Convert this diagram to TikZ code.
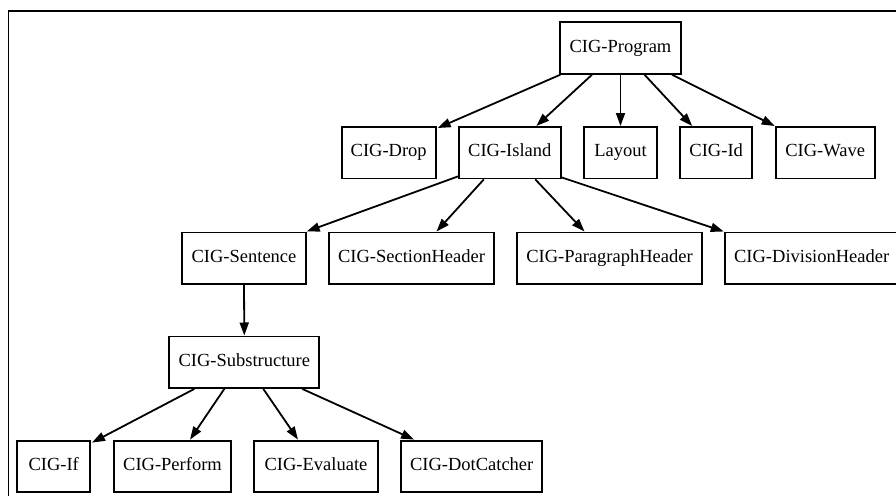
\documentclass[tikz,border=0pt]{standalone}
\usepackage{fontspec}
\setmainfont{Liberation Serif}
\usetikzlibrary{arrows.meta,calc}
\tikzset{
  box/.style={draw, line width=1.9pt, minimum height=51.5pt, inner sep=0pt, text height=12.5pt, text depth=4pt, font=\fontsize{18.5}{22}\selectfont},
  edge/.style={line width=1.8pt, -{Triangle[length=13pt,width=9pt]}, shorten >=0pt}
}
\begin{document}
\begin{tikzpicture}[x=1pt,y=-1pt]
\useasboundingbox (0,0) rectangle (896,495);
\draw[line width=1.3pt] (8.5,520) -- (8.5,11) -- (920,11);
\node[box, minimum width=120.4pt] (prog) at (620.5,48) {CIG-Program};
\node[box, minimum width=94pt] (drop) at (388.7,152.7) {CIG-Drop};
\node[box, minimum width=101.7pt] (isl) at (509.8,152.7) {CIG-Island};
\node[box, minimum width=73pt] (lay) at (620.5,152.7) {Layout};
\node[box, minimum width=72.3pt] (id) at (716.2,152.7) {CIG-Id};
\node[box, minimum width=99pt] (wave) at (825.2,152.7) {CIG-Wave};
\node[box, minimum width=123.4pt] (sent) at (244,258.2) {CIG-Sentence};
\node[box, minimum width=165pt] (sec) at (411.5,258.2) {CIG-SectionHeader};
\node[box, minimum width=184.4pt] (par) at (609.5,258.2) {CIG-ParagraphHeader};
\node[box, minimum width=174pt] (div) at (811.7,258.2) {CIG-DivisionHeader};
\node[box, minimum width=150pt] (sub) at (244.3,362.2) {CIG-Substructure};
\node[box, minimum width=72.7pt] (if) at (53.7,466.3) {CIG-If};
\node[box, minimum width=117pt] (perf) at (172.5,466.3) {CIG-Perform};
\node[box, minimum width=123.4pt] (eval) at (316,466.3) {CIG-Evaluate};
\node[box, minimum width=141.3pt] (dot) at (471.7,466.3) {CIG-DotCatcher};
\draw[edge] ($(prog.south west)+(1,0)$) -- ($(drop.north east)+(1,2)$);
\draw[edge] ($(prog.south)+(-28.5,0)$) -- ($(isl.north)+(26.5,0)$);
\draw[edge] (prog.south) -- (lay.north);
\draw[edge] ($(prog.south)+(24,0)$) -- ($(id.north)+(-24,0)$);
\draw[edge] ($(prog.south)+(51.5,0)$) -- (wave.north west);
\draw[edge] ($(isl.south west)+(0,-3)$) -- (sent.north east);
\draw[edge] ($(isl.south)+(-26,0)$) -- ($(sec.north)+(25,0)$);
\draw[edge] ($(isl.south)+(25.5,0)$) -- ($(par.north)+(-25,0)$);
\draw[edge] ($(isl.south east)+(0,-2)$) -- (div.north west);
\draw[edge] (sent.south) -- (sub.north);
\draw[edge] ($(sub.south west)+(26,0)$) -- ($(if.north east)+(1,3)$);
\draw[edge] ($(sub.south)+(-20,0)$) -- ($(perf.north)+(17.5,0)$);
\draw[edge] ($(sub.south)+(19,0)$) -- ($(eval.north)+(-18,0)$);
\draw[edge] ($(sub.south east)+(-18,0)$) -- ($(dot.north west)+(14,0)$);
\end{tikzpicture}
\end{document}
